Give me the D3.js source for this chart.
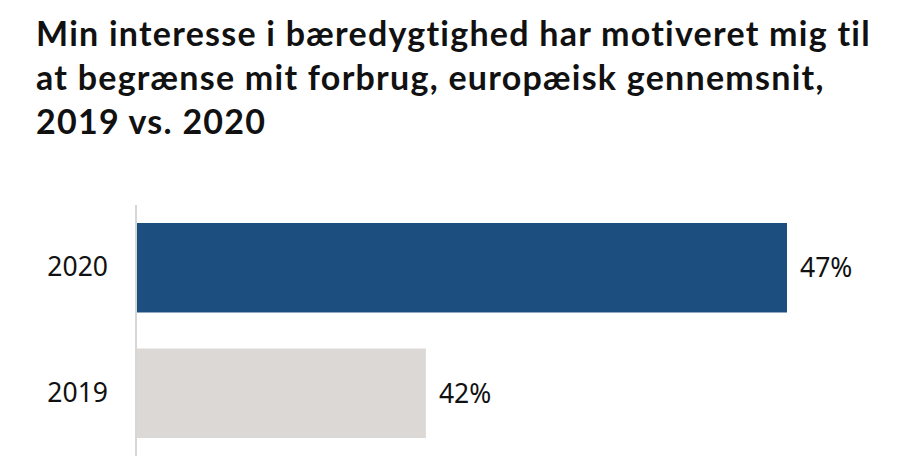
<!DOCTYPE html>
<html>
<head>
<meta charset="utf-8">
<script src="https://cdn.jsdelivr.net/npm/d3@7"></script>
<style>
  html, body { margin: 0; padding: 0; background: #fff; }
  svg { display: block; }
  text { font-variant-ligatures: none; font-feature-settings: "liga" 0, "clig" 0; }
</style>
</head>
<body>
<svg id="chart" width="918" height="466"></svg>
<script>
const titleLines = [
  "Min interesse i bæredygtighed har motiveret mig til",
  "at begrænse mit forbrug, europæisk gennemsnit,",
  "2019 vs. 2020"
];
const categories = ["2020", "2019"];
const values = [47, 42];
const valueLabels = ["47%", "42%"];
const colors = ["#1c4f80", "#dcd8d5"];

const svg = d3.select("#chart");

const title = svg.append("text")
  .attr("x", 36)
  .attr("y", 46)
  .attr("font-family", "Lato, sans-serif")
  .attr("font-weight", 700)
  .attr("font-size", 34)
  .attr("letter-spacing", 1.25)
  .attr("fill", "#111");
title.selectAll("tspan").data(titleLines).join("tspan")
  .attr("x", 36)
  .attr("dy", (d, i) => i === 0 ? 0 : 44)
  .text(d => d);

const x = d3.scaleLinear().domain([38, 47]).range([137, 787]);
const y = d3.scaleBand().domain(categories).range([205, 456]).paddingInner(0.287).paddingOuter(0.1435);

svg.selectAll("rect.bar").data(categories).join("rect")
  .attr("class", "bar")
  .attr("x", x(38))
  .attr("y", d => y(d))
  .attr("width", (d, i) => x(values[i]) - x(38))
  .attr("height", y.bandwidth())
  .attr("fill", (d, i) => colors[i]);

const yAxis = svg.append("g")
  .attr("transform", `translate(${x(38) - 1},0)`)
  .call(d3.axisLeft(y).tickSize(0).tickPadding(28));
yAxis.select(".domain").attr("stroke", "#d6d6d6").attr("stroke-width", 2)
  .attr("d", "M0,205V456");
yAxis.selectAll("text")
  .attr("font-family", "'Noto Sans', sans-serif")
  .attr("font-size", 26.5)
  .attr("fill", "#111");

svg.selectAll("text.val").data(categories).join("text")
  .attr("class", "val")
  .attr("x", (d, i) => x(values[i]) + 13)
  .attr("y", d => y(d) + y.bandwidth() / 2)
  .attr("dy", "0.35em")
  .attr("font-family", "'Noto Sans', sans-serif")
  .attr("font-size", 26.5)
  .attr("fill", "#111")
  .text((d, i) => valueLabels[i]);
</script>
</body>
</html>
